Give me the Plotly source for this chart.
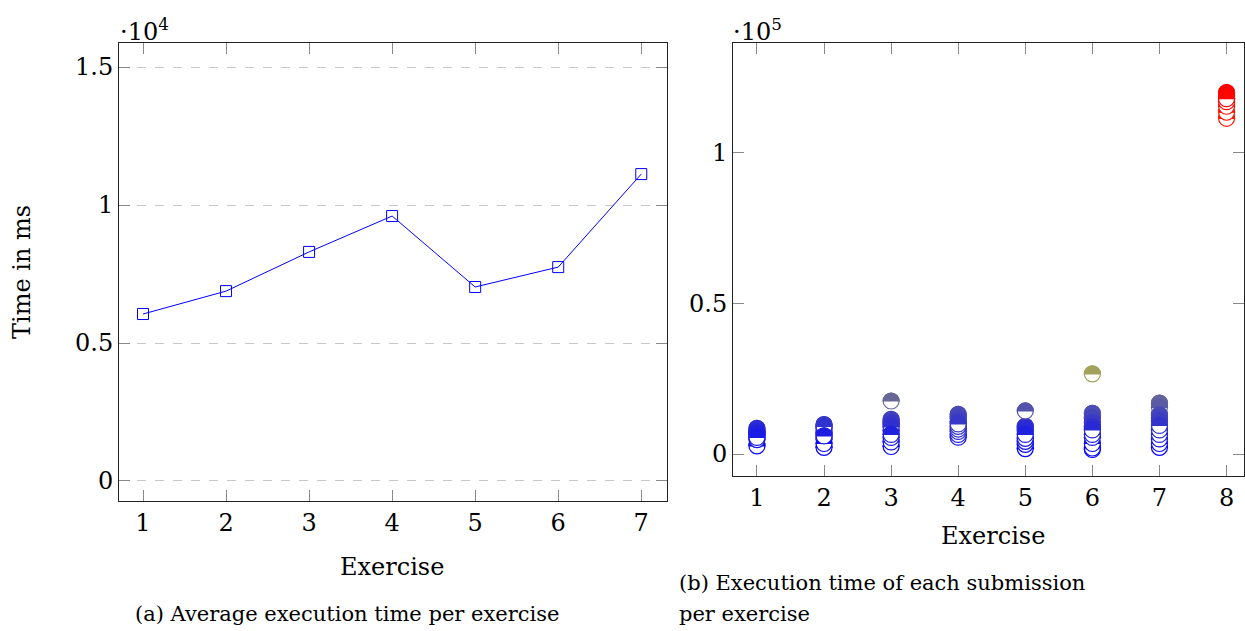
import plotly.graph_objects as go

# ---------------- data ----------------
exercises_a = [1, 2, 3, 4, 5, 6, 7]
avg_time_ms = [6050, 6880, 8300, 9600, 7030, 7750, 11120]

ytick_vals_a = [0, 5000, 10000, 15000]
ytick_text_a = ["0", "0.5", "1", "1.5"]

# submission times in submission order (drawing order)
sub_ex1 = [7000, 8500, 2700, 7800, 4800, 7200, 6000, 6500, 5500]
sub_ex2 = [5000, 9800, 2200, 8500, 7000, 9200, 3500, 6000]
sub_ex3 = [2500, 11500, 4000, 10800, 7800, 10000, 5500, 9000, 6500, 17600]
sub_ex4 = [5600, 13200, 6500, 12500, 7500, 11800, 8300, 10800, 9200, 10000]
sub_ex5 = [1800, 9200, 3200, 8500, 4200, 7800, 5200, 6500, 14300]
sub_ex6 = [1500, 13500, 2000, 12000, 3500, 10500, 5500, 9000, 6500, 8000, 26600]
sub_ex7 = [2200, 16900, 3500, 15500, 5000, 13000, 6500, 12000, 8000, 11000, 9500]
sub_ex8 = [111500, 113500, 120000, 115500, 119000, 117000, 118000]
submissions = [sub_ex1, sub_ex2, sub_ex3, sub_ex4, sub_ex5, sub_ex6, sub_ex7, sub_ex8]

ytick_vals_b = [0, 50000, 100000]
ytick_text_b = ["0", "0.5", "1"]

FONT = "DejaVu Serif"
W, H = 1245, 631

def px(x):
    return x / W

def py(y):
    return 1 - y / H

# pgfplots "hot" colormap
CMAP = [(0.0, (0, 0, 1)), (1 / 3, (1, 1, 0)), (2 / 3, (1, 0.5, 0)), (1.0, (1, 0, 0))]

def cmap(t):
    t = max(0.0, min(1.0, t))
    for (a, ca), (b, cb) in zip(CMAP[:-1], CMAP[1:]):
        if t <= b:
            f = (t - a) / (b - a)
            c = [ca[i] + f * (cb[i] - ca[i]) for i in range(3)]
            return "rgb(%d,%d,%d)" % tuple(round(255 * v) for v in c)
    return "rgb(255,0,0)"

fig = go.Figure()

# ---------- left: average ----------
fig.add_trace(go.Scatter(
    x=exercises_a, y=avg_time_ms, mode="lines+markers",
    line=dict(color="#0000ff", width=1),
    marker=dict(symbol="square-open", size=11, color="#0000ff", line=dict(width=1)),
    xaxis="x", yaxis="y", showlegend=False, hoverinfo="x+y"))

# ---------- right: submissions ----------
xs, ys = [], []
for i, vals in enumerate(submissions):
    for v in vals:
        xs.append(i + 1)
        ys.append(v)
vmin, vmax = min(ys), max(ys)

fig.add_trace(go.Scatter(
    x=xs, y=ys, mode="markers", marker=dict(size=16, opacity=0),
    xaxis="x2", yaxis="y2", showlegend=False))

shapes = []
r = 8
k = 0.5523 * r
half = f"M {-r},0 C {-r},{k} {-k},{r} 0,{r} C {k},{r} {r},{k} {r},0 Z"
for x, y in zip(xs, ys):
    col = cmap((y - vmin) / (vmax - vmin))
    shapes.append(dict(type="circle", xref="x2", yref="y2",
                       xsizemode="pixel", ysizemode="pixel",
                       xanchor=x, yanchor=y, x0=-r, x1=r, y0=-r, y1=r,
                       fillcolor="white", line=dict(color=col, width=1.2),
                       layer="above"))
    shapes.append(dict(type="path", xref="x2", yref="y2",
                       xsizemode="pixel", ysizemode="pixel",
                       xanchor=x, yanchor=y, path=half,
                       fillcolor=col, line=dict(color=col, width=1.2),
                       layer="above"))

tickfont = dict(family=FONT, size=24, color="black")
axis_common = dict(showline=True, linecolor="#222", linewidth=1, mirror="all",
                   ticks="inside", ticklen=11, tickcolor="#888", tickwidth=1,
                   tickfont=tickfont, zeroline=False)

fig.update_layout(
    width=W, height=H, margin=dict(l=0, r=0, t=0, b=0),
    paper_bgcolor="white", plot_bgcolor="white",
    shapes=shapes,
    xaxis=dict(domain=[px(119), px(667)], range=[0.711, 7.31],
               tickvals=exercises_a, showgrid=False, anchor="y", **axis_common),
    yaxis=dict(domain=[py(501), py(43)], range=[-725, 15870],
               tickvals=ytick_vals_a, ticktext=ytick_text_a,
               showgrid=True, gridcolor="#c8c8c8", griddash="dash", gridwidth=1,
               anchor="x", **axis_common),
    xaxis2=dict(domain=[px(733), px(1244)], range=[0.643, 8.26],
                tickvals=list(range(1, 9)), showgrid=False, anchor="y2", **axis_common),
    yaxis2=dict(domain=[py(476), py(43)], range=[-7300, 136500],
                tickvals=ytick_vals_b, ticktext=ytick_text_b,
                showgrid=False, anchor="x2", **axis_common),
)

ann_font = dict(family=FONT, size=24, color="black")
cap_font = dict(family=FONT, size=21, color="black")
annotations = [
    dict(text="·10<sup>4</sup>", x=px(118), y=py(30), xanchor="left", yanchor="middle",
         font=ann_font),
    dict(text="·10<sup>5</sup>", x=px(731), y=py(30), xanchor="left", yanchor="middle",
         font=ann_font),
    dict(text="Time in ms", x=px(22), y=py(272), textangle=-90, xanchor="center",
         yanchor="middle", font=ann_font),
    dict(text="Exercise", x=px(392), y=py(567), xanchor="center", yanchor="middle",
         font=ann_font),
    dict(text="Exercise", x=px(993), y=py(536), xanchor="center", yanchor="middle",
         font=ann_font),
    dict(text="(a) Average execution time per exercise", x=px(347), y=py(614),
         xanchor="center", yanchor="middle", font=cap_font),
    dict(text="(b) Execution time of each submission", x=px(677), y=py(583),
         xanchor="left", yanchor="middle", font=cap_font),
    dict(text="per exercise", x=px(677), y=py(614),
         xanchor="left", yanchor="middle", font=cap_font),
]
for a in annotations:
    a.update(xref="paper", yref="paper", showarrow=False)
fig.update_layout(annotations=annotations)

fig.write_html("out.html")
